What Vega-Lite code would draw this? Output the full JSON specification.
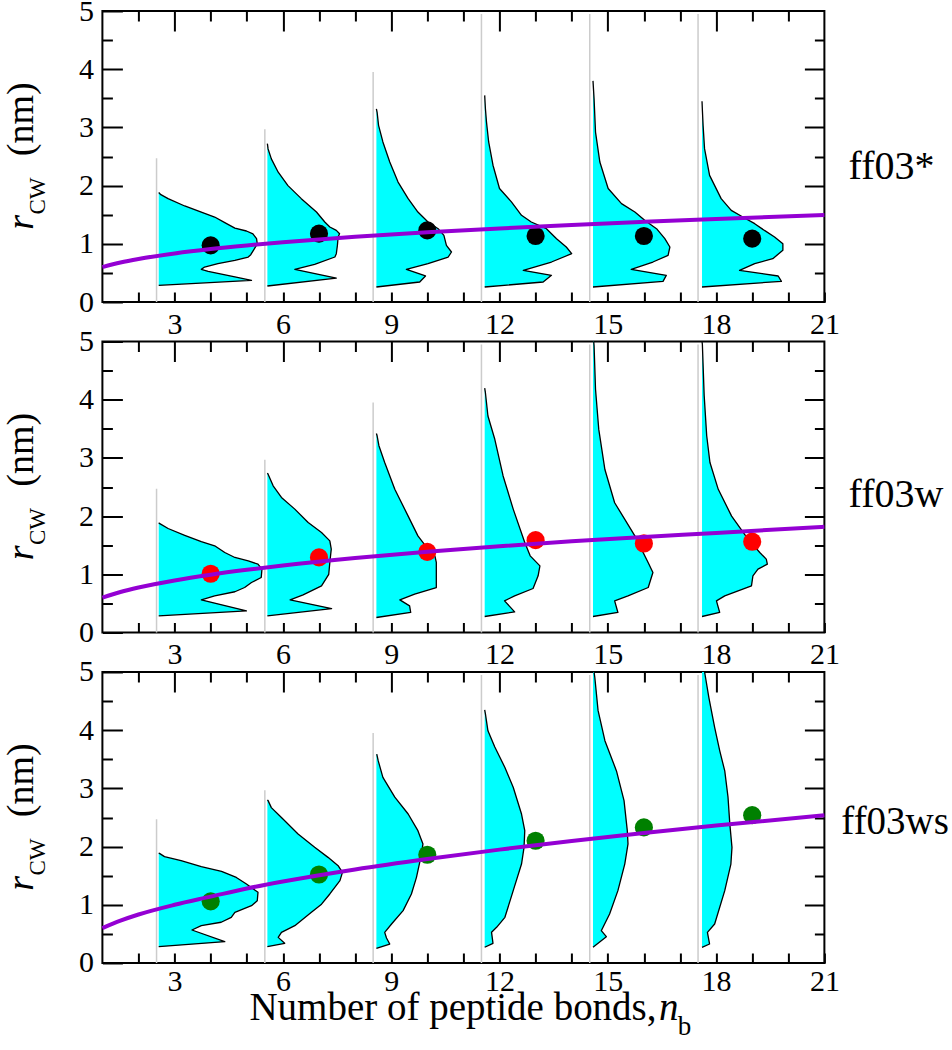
{
"$schema":"https://vega.github.io/schema/vega-lite/v6.json",
"autosize":{"type":"pad"},
"padding":{"left":2.4,"top":-5,"right":0,"bottom":0},
"background":"white",
"spacing":39.5,
"bounds":"flush",
"config":{"view":{"stroke":"black","strokeWidth":2},"font":"Liberation Serif","text":{"font":"Liberation Serif","color":"black"},
"axis":{"labelFont":"Liberation Serif","labelFontSize":30,"labelColor":"black","tickColor":"black","tickWidth":2,"domain":false,"grid":false,"labelFlush":false,"labelOverlap":false,"labelBound":false}},
"datasets":{
"bars":[
{"f":"ff03*","x0":2.5,"lo":0,"hi":2.47},{"f":"ff03*","x0":5.5,"lo":0,"hi":2.97},{"f":"ff03*","x0":8.5,"lo":0,"hi":3.95},{"f":"ff03*","x0":11.5,"lo":0,"hi":4.95},{"f":"ff03*","x0":14.5,"lo":0,"hi":4.95},{"f":"ff03*","x0":17.5,"lo":0,"hi":4.95},
{"f":"ff03w","x0":2.5,"lo":0,"hi":2.47},{"f":"ff03w","x0":5.5,"lo":0,"hi":2.97},{"f":"ff03w","x0":8.5,"lo":0,"hi":3.95},{"f":"ff03w","x0":11.5,"lo":0,"hi":4.95},{"f":"ff03w","x0":14.5,"lo":0,"hi":4.95},{"f":"ff03w","x0":17.5,"lo":0,"hi":4.95},
{"f":"ff03ws","x0":2.5,"lo":0,"hi":2.47},{"f":"ff03ws","x0":5.5,"lo":0,"hi":2.97},{"f":"ff03ws","x0":8.5,"lo":0,"hi":3.95},{"f":"ff03ws","x0":11.5,"lo":0,"hi":4.95},{"f":"ff03ws","x0":14.5,"lo":0,"hi":4.95},{"f":"ff03ws","x0":17.5,"lo":0,"hi":4.95}
],
"means":[
{"f":"ff03*","n":4,"r":0.974},{"f":"ff03*","n":7,"r":1.174},{"f":"ff03*","n":10,"r":1.23},{"f":"ff03*","n":13,"r":1.134},{"f":"ff03*","n":16,"r":1.134},{"f":"ff03*","n":19,"r":1.088},
{"f":"ff03w","n":4,"r":1.01},{"f":"ff03w","n":7,"r":1.29},{"f":"ff03w","n":10,"r":1.386},{"f":"ff03w","n":13,"r":1.586},{"f":"ff03w","n":16,"r":1.53},{"f":"ff03w","n":19,"r":1.56},
{"f":"ff03ws","n":4,"r":1.06},{"f":"ff03ws","n":7,"r":1.52},{"f":"ff03ws","n":10,"r":1.86},{"f":"ff03ws","n":13,"r":2.1},{"f":"ff03ws","n":16,"r":2.33},{"f":"ff03ws","n":19,"r":2.54}
],
"fits":[
{"f":"ff03*","n":1,"r":0.6},{"f":"ff03*","n":1.5,"r":0.678},{"f":"ff03*","n":2,"r":0.739},{"f":"ff03*","n":3,"r":0.834},{"f":"ff03*","n":4,"r":0.91},{"f":"ff03*","n":5,"r":0.972},{"f":"ff03*","n":6,"r":1.027},{"f":"ff03*","n":8,"r":1.12},{"f":"ff03*","n":10,"r":1.197},{"f":"ff03*","n":12,"r":1.264},{"f":"ff03*","n":14,"r":1.324},{"f":"ff03*","n":16,"r":1.378},{"f":"ff03*","n":18,"r":1.428},{"f":"ff03*","n":21,"r":1.496},
{"f":"ff03w","n":1,"r":0.6},{"f":"ff03w","n":1.5,"r":0.695},{"f":"ff03w","n":2,"r":0.772},{"f":"ff03w","n":3,"r":0.895},{"f":"ff03w","n":4,"r":0.994},{"f":"ff03w","n":5,"r":1.078},{"f":"ff03w","n":6,"r":1.152},{"f":"ff03w","n":8,"r":1.279},{"f":"ff03w","n":10,"r":1.387},{"f":"ff03w","n":12,"r":1.482},{"f":"ff03w","n":14,"r":1.568},{"f":"ff03w","n":16,"r":1.64},{"f":"ff03w","n":18,"r":1.71},{"f":"ff03w","n":21,"r":1.817},
{"f":"ff03ws","n":1,"r":0.6},{"f":"ff03ws","n":1.5,"r":0.727},{"f":"ff03ws","n":2,"r":0.833},{"f":"ff03ws","n":3,"r":1.0},{"f":"ff03ws","n":4,"r":1.14},{"f":"ff03ws","n":5,"r":1.28},{"f":"ff03ws","n":6,"r":1.4},{"f":"ff03ws","n":8,"r":1.608},{"f":"ff03ws","n":10,"r":1.787},{"f":"ff03ws","n":12,"r":1.948},{"f":"ff03ws","n":14,"r":2.096},{"f":"ff03ws","n":16,"r":2.233},{"f":"ff03ws","n":18,"r":2.361},{"f":"ff03ws","n":21,"r":2.54}
],
"shapes":[
{"f":"ff03*","g":1,"b":2.56,"x":2.56,"r":0.286},{"f":"ff03*","g":1,"b":2.56,"x":5.13,"r":0.372},{"f":"ff03*","g":1,"b":2.56,"x":4.67,"r":0.43},{"f":"ff03*","g":1,"b":2.56,"x":3.93,"r":0.527},{"f":"ff03*","g":1,"b":2.56,"x":3.74,"r":0.561},{"f":"ff03*","g":1,"b":2.56,"x":3.83,"r":0.6},{"f":"ff03*","g":1,"b":2.56,"x":4.2,"r":0.659},{"f":"ff03*","g":1,"b":2.56,"x":4.67,"r":0.716},{"f":"ff03*","g":1,"b":2.56,"x":5.04,"r":0.773},{"f":"ff03*","g":1,"b":2.56,"x":5.11,"r":0.813},{"f":"ff03*","g":1,"b":2.56,"x":5.2,"r":0.905},{"f":"ff03*","g":1,"b":2.56,"x":5.29,"r":1.0},{"f":"ff03*","g":1,"b":2.56,"x":5.27,"r":1.088},{"f":"ff03*","g":1,"b":2.56,"x":5.17,"r":1.17},{"f":"ff03*","g":1,"b":2.56,"x":4.99,"r":1.22},{"f":"ff03*","g":1,"b":2.56,"x":4.67,"r":1.27},{"f":"ff03*","g":1,"b":2.56,"x":4.39,"r":1.363},{"f":"ff03*","g":1,"b":2.56,"x":4.11,"r":1.46},{"f":"ff03*","g":1,"b":2.56,"x":3.74,"r":1.546},{"f":"ff03*","g":1,"b":2.56,"x":3.28,"r":1.65},{"f":"ff03*","g":1,"b":2.56,"x":2.82,"r":1.776},{"f":"ff03*","g":1,"b":2.56,"x":2.62,"r":1.844},{"f":"ff03*","g":1,"b":2.56,"x":2.56,"r":1.88},
{"f":"ff03*","g":2,"b":5.57,"x":5.57,"r":0.275},{"f":"ff03*","g":2,"b":5.57,"x":7.48,"r":0.412},{"f":"ff03*","g":2,"b":5.57,"x":6.33,"r":0.561},{"f":"ff03*","g":2,"b":5.57,"x":6.88,"r":0.647},{"f":"ff03*","g":2,"b":5.57,"x":7.44,"r":0.773},{"f":"ff03*","g":2,"b":5.57,"x":7.48,"r":0.83},{"f":"ff03*","g":2,"b":5.57,"x":7.51,"r":0.974},{"f":"ff03*","g":2,"b":5.57,"x":7.53,"r":1.117},{"f":"ff03*","g":2,"b":5.57,"x":7.57,"r":1.174},{"f":"ff03*","g":2,"b":5.57,"x":7.48,"r":1.231},{"f":"ff03*","g":2,"b":5.57,"x":7.3,"r":1.289},{"f":"ff03*","g":2,"b":5.57,"x":7.16,"r":1.375},{"f":"ff03*","g":2,"b":5.57,"x":6.93,"r":1.546},{"f":"ff03*","g":2,"b":5.57,"x":6.51,"r":1.776},{"f":"ff03*","g":2,"b":5.57,"x":6.14,"r":2.0},{"f":"ff03*","g":2,"b":5.57,"x":5.87,"r":2.23},{"f":"ff03*","g":2,"b":5.57,"x":5.68,"r":2.46},{"f":"ff03*","g":2,"b":5.57,"x":5.59,"r":2.63},{"f":"ff03*","g":2,"b":5.57,"x":5.57,"r":2.72},
{"f":"ff03*","g":3,"b":8.59,"x":8.59,"r":0.258},{"f":"ff03*","g":3,"b":8.59,"x":9.79,"r":0.344},{"f":"ff03*","g":3,"b":8.59,"x":9.95,"r":0.447},{"f":"ff03*","g":3,"b":8.59,"x":9.42,"r":0.561},{"f":"ff03*","g":3,"b":8.59,"x":10.02,"r":0.659},{"f":"ff03*","g":3,"b":8.59,"x":10.58,"r":0.773},{"f":"ff03*","g":3,"b":8.59,"x":10.67,"r":0.859},{"f":"ff03*","g":3,"b":8.59,"x":10.53,"r":0.974},{"f":"ff03*","g":3,"b":8.59,"x":10.46,"r":1.145},{"f":"ff03*","g":3,"b":8.59,"x":10.3,"r":1.26},{"f":"ff03*","g":3,"b":8.59,"x":10.02,"r":1.375},{"f":"ff03*","g":3,"b":8.59,"x":9.74,"r":1.546},{"f":"ff03*","g":3,"b":8.59,"x":9.47,"r":1.776},{"f":"ff03*","g":3,"b":8.59,"x":9.19,"r":2.06},{"f":"ff03*","g":3,"b":8.59,"x":8.96,"r":2.405},{"f":"ff03*","g":3,"b":8.59,"x":8.77,"r":2.75},{"f":"ff03*","g":3,"b":8.59,"x":8.65,"r":3.035},{"f":"ff03*","g":3,"b":8.59,"x":8.61,"r":3.26},{"f":"ff03*","g":3,"b":8.59,"x":8.59,"r":3.32},
{"f":"ff03*","g":4,"b":11.59,"x":11.59,"r":0.258},{"f":"ff03*","g":4,"b":11.59,"x":13.21,"r":0.344},{"f":"ff03*","g":4,"b":11.59,"x":13.44,"r":0.458},{"f":"ff03*","g":4,"b":11.59,"x":12.66,"r":0.544},{"f":"ff03*","g":4,"b":11.59,"x":13.44,"r":0.687},{"f":"ff03*","g":4,"b":11.59,"x":14.0,"r":0.83},{"f":"ff03*","g":4,"b":11.59,"x":13.85,"r":0.945},{"f":"ff03*","g":4,"b":11.59,"x":13.58,"r":1.088},{"f":"ff03*","g":4,"b":11.59,"x":13.3,"r":1.26},{"f":"ff03*","g":4,"b":11.59,"x":12.88,"r":1.375},{"f":"ff03*","g":4,"b":11.59,"x":12.61,"r":1.49},{"f":"ff03*","g":4,"b":11.59,"x":12.33,"r":1.72},{"f":"ff03*","g":4,"b":11.59,"x":12.0,"r":1.95},{"f":"ff03*","g":4,"b":11.59,"x":11.82,"r":2.35},{"f":"ff03*","g":4,"b":11.59,"x":11.7,"r":2.75},{"f":"ff03*","g":4,"b":11.59,"x":11.64,"r":3.09},{"f":"ff03*","g":4,"b":11.59,"x":11.61,"r":3.32},{"f":"ff03*","g":4,"b":11.59,"x":11.59,"r":3.55},
{"f":"ff03*","g":5,"b":14.59,"x":14.59,"r":0.258},{"f":"ff03*","g":5,"b":14.59,"x":16.53,"r":0.355},{"f":"ff03*","g":5,"b":14.59,"x":16.62,"r":0.458},{"f":"ff03*","g":5,"b":14.59,"x":15.65,"r":0.561},{"f":"ff03*","g":5,"b":14.59,"x":16.25,"r":0.687},{"f":"ff03*","g":5,"b":14.59,"x":16.67,"r":0.8},{"f":"ff03*","g":5,"b":14.59,"x":16.72,"r":0.945},{"f":"ff03*","g":5,"b":14.59,"x":16.58,"r":1.088},{"f":"ff03*","g":5,"b":14.59,"x":16.35,"r":1.26},{"f":"ff03*","g":5,"b":14.59,"x":16.03,"r":1.4},{"f":"ff03*","g":5,"b":14.59,"x":15.75,"r":1.546},{"f":"ff03*","g":5,"b":14.59,"x":15.38,"r":1.69},{"f":"ff03*","g":5,"b":14.59,"x":15.01,"r":1.95},{"f":"ff03*","g":5,"b":14.59,"x":14.78,"r":2.405},{"f":"ff03*","g":5,"b":14.59,"x":14.66,"r":2.92},{"f":"ff03*","g":5,"b":14.59,"x":14.62,"r":3.49},{"f":"ff03*","g":5,"b":14.59,"x":14.59,"r":3.8},
{"f":"ff03*","g":6,"b":17.61,"x":17.61,"r":0.258},{"f":"ff03*","g":6,"b":17.61,"x":19.81,"r":0.355},{"f":"ff03*","g":6,"b":17.61,"x":19.72,"r":0.447},{"f":"ff03*","g":6,"b":17.61,"x":18.65,"r":0.544},{"f":"ff03*","g":6,"b":17.61,"x":19.07,"r":0.659},{"f":"ff03*","g":6,"b":17.61,"x":19.57,"r":0.745},{"f":"ff03*","g":6,"b":17.61,"x":19.85,"r":0.888},{"f":"ff03*","g":6,"b":17.61,"x":19.85,"r":1.0},{"f":"ff03*","g":6,"b":17.61,"x":19.62,"r":1.117},{"f":"ff03*","g":6,"b":17.61,"x":19.34,"r":1.23},{"f":"ff03*","g":6,"b":17.61,"x":19.07,"r":1.346},{"f":"ff03*","g":6,"b":17.61,"x":18.74,"r":1.46},{"f":"ff03*","g":6,"b":17.61,"x":18.42,"r":1.575},{"f":"ff03*","g":6,"b":17.61,"x":18.14,"r":1.776},{"f":"ff03*","g":6,"b":17.61,"x":17.82,"r":2.176},{"f":"ff03*","g":6,"b":17.61,"x":17.68,"r":2.635},{"f":"ff03*","g":6,"b":17.61,"x":17.64,"r":3.035},{"f":"ff03*","g":6,"b":17.61,"x":17.62,"r":3.3},{"f":"ff03*","g":6,"b":17.61,"x":17.61,"r":3.45},
{"f":"ff03w","g":1,"b":2.56,"x":2.56,"r":0.286},{"f":"ff03w","g":1,"b":2.56,"x":4.99,"r":0.372},{"f":"ff03w","g":1,"b":2.56,"x":3.74,"r":0.561},{"f":"ff03w","g":1,"b":2.56,"x":4.11,"r":0.63},{"f":"ff03w","g":1,"b":2.56,"x":4.67,"r":0.7},{"f":"ff03w","g":1,"b":2.56,"x":4.94,"r":0.773},{"f":"ff03w","g":1,"b":2.56,"x":5.13,"r":0.859},{"f":"ff03w","g":1,"b":2.56,"x":5.4,"r":0.945},{"f":"ff03w","g":1,"b":2.56,"x":5.42,"r":1.088},{"f":"ff03w","g":1,"b":2.56,"x":5.31,"r":1.174},{"f":"ff03w","g":1,"b":2.56,"x":5.04,"r":1.23},{"f":"ff03w","g":1,"b":2.56,"x":4.67,"r":1.289},{"f":"ff03w","g":1,"b":2.56,"x":4.39,"r":1.375},{"f":"ff03w","g":1,"b":2.56,"x":4.11,"r":1.49},{"f":"ff03w","g":1,"b":2.56,"x":3.74,"r":1.56},{"f":"ff03w","g":1,"b":2.56,"x":3.28,"r":1.67},{"f":"ff03w","g":1,"b":2.56,"x":2.82,"r":1.787},{"f":"ff03w","g":1,"b":2.56,"x":2.59,"r":1.87},{"f":"ff03w","g":1,"b":2.56,"x":2.56,"r":1.885},
{"f":"ff03w","g":2,"b":5.57,"x":5.57,"r":0.286},{"f":"ff03w","g":2,"b":5.57,"x":7.35,"r":0.412},{"f":"ff03w","g":2,"b":5.57,"x":6.2,"r":0.561},{"f":"ff03w","g":2,"b":5.57,"x":6.56,"r":0.647},{"f":"ff03w","g":2,"b":5.57,"x":7.07,"r":0.8},{"f":"ff03w","g":2,"b":5.57,"x":7.27,"r":1.0},{"f":"ff03w","g":2,"b":5.57,"x":7.3,"r":1.203},{"f":"ff03w","g":2,"b":5.57,"x":7.34,"r":1.432},{"f":"ff03w","g":2,"b":5.57,"x":7.3,"r":1.575},{"f":"ff03w","g":2,"b":5.57,"x":7.07,"r":1.718},{"f":"ff03w","g":2,"b":5.57,"x":6.7,"r":1.89},{"f":"ff03w","g":2,"b":5.57,"x":6.33,"r":2.12},{"f":"ff03w","g":2,"b":5.57,"x":5.96,"r":2.32},{"f":"ff03w","g":2,"b":5.57,"x":5.73,"r":2.52},{"f":"ff03w","g":2,"b":5.57,"x":5.59,"r":2.72},{"f":"ff03w","g":2,"b":5.57,"x":5.57,"r":2.74},
{"f":"ff03w","g":3,"b":8.59,"x":8.59,"r":0.258},{"f":"ff03w","g":3,"b":8.59,"x":9.54,"r":0.344},{"f":"ff03w","g":3,"b":8.59,"x":9.51,"r":0.458},{"f":"ff03w","g":3,"b":8.59,"x":9.24,"r":0.561},{"f":"ff03w","g":3,"b":8.59,"x":9.65,"r":0.659},{"f":"ff03w","g":3,"b":8.59,"x":10.25,"r":0.773},{"f":"ff03w","g":3,"b":8.59,"x":10.25,"r":0.974},{"f":"ff03w","g":3,"b":8.59,"x":10.25,"r":1.203},{"f":"ff03w","g":3,"b":8.59,"x":10.21,"r":1.317},{"f":"ff03w","g":3,"b":8.59,"x":10.02,"r":1.432},{"f":"ff03w","g":3,"b":8.59,"x":9.74,"r":1.66},{"f":"ff03w","g":3,"b":8.59,"x":9.47,"r":2.0},{"f":"ff03w","g":3,"b":8.59,"x":9.1,"r":2.46},{"f":"ff03w","g":3,"b":8.59,"x":8.82,"r":2.92},{"f":"ff03w","g":3,"b":8.59,"x":8.66,"r":3.21},{"f":"ff03w","g":3,"b":8.59,"x":8.61,"r":3.38},{"f":"ff03w","g":3,"b":8.59,"x":8.59,"r":3.42},
{"f":"ff03w","g":4,"b":11.59,"x":11.59,"r":0.275},{"f":"ff03w","g":4,"b":11.59,"x":12.42,"r":0.355},{"f":"ff03w","g":4,"b":11.59,"x":12.14,"r":0.544},{"f":"ff03w","g":4,"b":11.59,"x":12.42,"r":0.63},{"f":"ff03w","g":4,"b":11.59,"x":12.93,"r":0.756},{"f":"ff03w","g":4,"b":11.59,"x":13.07,"r":0.974},{"f":"ff03w","g":4,"b":11.59,"x":13.12,"r":1.145},{"f":"ff03w","g":4,"b":11.59,"x":12.85,"r":1.317},{"f":"ff03w","g":4,"b":11.59,"x":12.7,"r":1.546},{"f":"ff03w","g":4,"b":11.59,"x":12.38,"r":2.12},{"f":"ff03w","g":4,"b":11.59,"x":12.1,"r":2.69},{"f":"ff03w","g":4,"b":11.59,"x":11.87,"r":3.32},{"f":"ff03w","g":4,"b":11.59,"x":11.68,"r":3.72},{"f":"ff03w","g":4,"b":11.59,"x":11.61,"r":4.12},{"f":"ff03w","g":4,"b":11.59,"x":11.59,"r":4.2},
{"f":"ff03w","g":5,"b":14.59,"x":14.59,"r":0.275},{"f":"ff03w","g":5,"b":14.59,"x":15.28,"r":0.344},{"f":"ff03w","g":5,"b":14.59,"x":15.19,"r":0.544},{"f":"ff03w","g":5,"b":14.59,"x":15.56,"r":0.63},{"f":"ff03w","g":5,"b":14.59,"x":16.12,"r":0.773},{"f":"ff03w","g":5,"b":14.59,"x":16.25,"r":1.03},{"f":"ff03w","g":5,"b":14.59,"x":16.12,"r":1.2},{"f":"ff03w","g":5,"b":14.59,"x":15.75,"r":1.66},{"f":"ff03w","g":5,"b":14.59,"x":15.19,"r":2.23},{"f":"ff03w","g":5,"b":14.59,"x":14.92,"r":2.8},{"f":"ff03w","g":5,"b":14.59,"x":14.75,"r":3.49},{"f":"ff03w","g":5,"b":14.59,"x":14.66,"r":4.18},{"f":"ff03w","g":5,"b":14.59,"x":14.62,"r":4.93},{"f":"ff03w","g":5,"b":14.59,"x":14.61,"r":5.0},
{"f":"ff03w","g":6,"b":17.61,"x":17.61,"r":0.275},{"f":"ff03w","g":6,"b":17.61,"x":18.1,"r":0.344},{"f":"ff03w","g":6,"b":17.61,"x":18.01,"r":0.544},{"f":"ff03w","g":6,"b":17.61,"x":18.24,"r":0.63},{"f":"ff03w","g":6,"b":17.61,"x":18.98,"r":0.8},{"f":"ff03w","g":6,"b":17.61,"x":19.02,"r":0.974},{"f":"ff03w","g":6,"b":17.61,"x":19.16,"r":1.088},{"f":"ff03w","g":6,"b":17.61,"x":19.42,"r":1.174},{"f":"ff03w","g":6,"b":17.61,"x":19.39,"r":1.26},{"f":"ff03w","g":6,"b":17.61,"x":19.21,"r":1.375},{"f":"ff03w","g":6,"b":17.61,"x":18.89,"r":1.6},{"f":"ff03w","g":6,"b":17.61,"x":18.43,"r":2.0},{"f":"ff03w","g":6,"b":17.61,"x":18.06,"r":2.46},{"f":"ff03w","g":6,"b":17.61,"x":17.83,"r":2.92},{"f":"ff03w","g":6,"b":17.61,"x":17.74,"r":3.38},{"f":"ff03w","g":6,"b":17.61,"x":17.67,"r":4.07},{"f":"ff03w","g":6,"b":17.61,"x":17.62,"r":4.95},{"f":"ff03w","g":6,"b":17.61,"x":17.61,"r":5.0},
{"f":"ff03ws","g":1,"b":2.56,"x":2.56,"r":0.28},{"f":"ff03ws","g":1,"b":2.56,"x":4.39,"r":0.367},{"f":"ff03ws","g":1,"b":2.56,"x":3.48,"r":0.567},{"f":"ff03ws","g":1,"b":2.56,"x":3.74,"r":0.641},{"f":"ff03ws","g":1,"b":2.56,"x":4.29,"r":0.7},{"f":"ff03ws","g":1,"b":2.56,"x":4.57,"r":0.785},{"f":"ff03ws","g":1,"b":2.56,"x":4.67,"r":0.87},{"f":"ff03ws","g":1,"b":2.56,"x":5.13,"r":0.985},{"f":"ff03ws","g":1,"b":2.56,"x":5.29,"r":1.07},{"f":"ff03ws","g":1,"b":2.56,"x":5.31,"r":1.214},{"f":"ff03ws","g":1,"b":2.56,"x":5.22,"r":1.254},{"f":"ff03ws","g":1,"b":2.56,"x":4.99,"r":1.357},{"f":"ff03ws","g":1,"b":2.56,"x":4.71,"r":1.47},{"f":"ff03ws","g":1,"b":2.56,"x":4.3,"r":1.575},{"f":"ff03ws","g":1,"b":2.56,"x":3.74,"r":1.655},{"f":"ff03ws","g":1,"b":2.56,"x":3.18,"r":1.758},{"f":"ff03ws","g":1,"b":2.56,"x":2.72,"r":1.827},{"f":"ff03ws","g":1,"b":2.56,"x":2.58,"r":1.884},{"f":"ff03ws","g":1,"b":2.56,"x":2.56,"r":1.89},
{"f":"ff03ws","g":2,"b":5.57,"x":5.57,"r":0.28},{"f":"ff03ws","g":2,"b":5.57,"x":6.05,"r":0.338},{"f":"ff03ws","g":2,"b":5.57,"x":5.87,"r":0.44},{"f":"ff03ws","g":2,"b":5.57,"x":5.96,"r":0.527},{"f":"ff03ws","g":2,"b":5.57,"x":6.33,"r":0.641},{"f":"ff03ws","g":2,"b":5.57,"x":6.79,"r":0.87},{"f":"ff03ws","g":2,"b":5.57,"x":7.07,"r":1.01},{"f":"ff03ws","g":2,"b":5.57,"x":7.3,"r":1.186},{"f":"ff03ws","g":2,"b":5.57,"x":7.58,"r":1.415},{"f":"ff03ws","g":2,"b":5.57,"x":7.65,"r":1.558},{"f":"ff03ws","g":2,"b":5.57,"x":7.53,"r":1.672},{"f":"ff03ws","g":2,"b":5.57,"x":7.25,"r":1.815},{"f":"ff03ws","g":2,"b":5.57,"x":6.88,"r":1.987},{"f":"ff03ws","g":2,"b":5.57,"x":6.42,"r":2.216},{"f":"ff03ws","g":2,"b":5.57,"x":5.96,"r":2.5},{"f":"ff03ws","g":2,"b":5.57,"x":5.68,"r":2.67},{"f":"ff03ws","g":2,"b":5.57,"x":5.59,"r":2.79},{"f":"ff03ws","g":2,"b":5.57,"x":5.57,"r":2.8},
{"f":"ff03ws","g":3,"b":8.59,"x":8.59,"r":0.252},{"f":"ff03ws","g":3,"b":8.59,"x":8.96,"r":0.326},{"f":"ff03ws","g":3,"b":8.59,"x":8.87,"r":0.43},{"f":"ff03ws","g":3,"b":8.59,"x":8.82,"r":0.527},{"f":"ff03ws","g":3,"b":8.59,"x":9.01,"r":0.67},{"f":"ff03ws","g":3,"b":8.59,"x":9.33,"r":0.9},{"f":"ff03ws","g":3,"b":8.59,"x":9.56,"r":1.186},{"f":"ff03ws","g":3,"b":8.59,"x":9.7,"r":1.472},{"f":"ff03ws","g":3,"b":8.59,"x":9.82,"r":1.815},{"f":"ff03ws","g":3,"b":8.59,"x":9.88,"r":2.045},{"f":"ff03ws","g":3,"b":8.59,"x":9.74,"r":2.274},{"f":"ff03ws","g":3,"b":8.59,"x":9.47,"r":2.56},{"f":"ff03ws","g":3,"b":8.59,"x":9.1,"r":2.85},{"f":"ff03ws","g":3,"b":8.59,"x":8.77,"r":3.19},{"f":"ff03ws","g":3,"b":8.59,"x":8.64,"r":3.476},{"f":"ff03ws","g":3,"b":8.59,"x":8.6,"r":3.59},
{"f":"ff03ws","g":4,"b":11.59,"x":11.59,"r":0.27},{"f":"ff03ws","g":4,"b":11.59,"x":11.82,"r":0.338},{"f":"ff03ws","g":4,"b":11.59,"x":11.78,"r":0.527},{"f":"ff03ws","g":4,"b":11.59,"x":11.92,"r":0.613},{"f":"ff03ws","g":4,"b":11.59,"x":12.15,"r":0.785},{"f":"ff03ws","g":4,"b":11.59,"x":12.38,"r":1.243},{"f":"ff03ws","g":4,"b":11.59,"x":12.61,"r":1.7},{"f":"ff03ws","g":4,"b":11.59,"x":12.68,"r":1.987},{"f":"ff03ws","g":4,"b":11.59,"x":12.7,"r":2.274},{"f":"ff03ws","g":4,"b":11.59,"x":12.61,"r":2.56},{"f":"ff03ws","g":4,"b":11.59,"x":12.38,"r":3.02},{"f":"ff03ws","g":4,"b":11.59,"x":12.15,"r":3.36},{"f":"ff03ws","g":4,"b":11.59,"x":11.87,"r":3.71},{"f":"ff03ws","g":4,"b":11.59,"x":11.68,"r":3.99},{"f":"ff03ws","g":4,"b":11.59,"x":11.61,"r":4.28},{"f":"ff03ws","g":4,"b":11.59,"x":11.59,"r":4.35},
{"f":"ff03ws","g":5,"b":14.59,"x":14.59,"r":0.27},{"f":"ff03ws","g":5,"b":14.59,"x":14.96,"r":0.452},{"f":"ff03ws","g":5,"b":14.59,"x":14.82,"r":0.555},{"f":"ff03ws","g":5,"b":14.59,"x":15.05,"r":0.842},{"f":"ff03ws","g":5,"b":14.59,"x":15.28,"r":1.243},{"f":"ff03ws","g":5,"b":14.59,"x":15.47,"r":1.7},{"f":"ff03ws","g":5,"b":14.59,"x":15.56,"r":2.045},{"f":"ff03ws","g":5,"b":14.59,"x":15.54,"r":2.274},{"f":"ff03ws","g":5,"b":14.59,"x":15.45,"r":2.79},{"f":"ff03ws","g":5,"b":14.59,"x":15.24,"r":3.3},{"f":"ff03ws","g":5,"b":14.59,"x":14.92,"r":3.82},{"f":"ff03ws","g":5,"b":14.59,"x":14.73,"r":4.34},{"f":"ff03ws","g":5,"b":14.59,"x":14.64,"r":4.91},{"f":"ff03ws","g":5,"b":14.59,"x":14.62,"r":5.0},
{"f":"ff03ws","g":6,"b":17.61,"x":17.61,"r":0.27},{"f":"ff03ws","g":6,"b":17.61,"x":17.82,"r":0.326},{"f":"ff03ws","g":6,"b":17.61,"x":17.76,"r":0.527},{"f":"ff03ws","g":6,"b":17.61,"x":17.96,"r":0.67},{"f":"ff03ws","g":6,"b":17.61,"x":18.24,"r":1.243},{"f":"ff03ws","g":6,"b":17.61,"x":18.41,"r":1.7},{"f":"ff03ws","g":6,"b":17.61,"x":18.44,"r":1.987},{"f":"ff03ws","g":6,"b":17.61,"x":18.38,"r":2.39},{"f":"ff03ws","g":6,"b":17.61,"x":18.33,"r":2.85},{"f":"ff03ws","g":6,"b":17.61,"x":18.24,"r":3.3},{"f":"ff03ws","g":6,"b":17.61,"x":18.1,"r":3.65},{"f":"ff03ws","g":6,"b":17.61,"x":17.96,"r":4.05},{"f":"ff03ws","g":6,"b":17.61,"x":17.8,"r":4.56},{"f":"ff03ws","g":6,"b":17.61,"x":17.69,"r":4.97},{"f":"ff03ws","g":6,"b":17.61,"x":17.68,"r":5.0}
]
},
"vconcat":[
{"width":722,"height":291,"resolve":{"axis":{"x":"independent","y":"independent"}},
"layer":[
{"data":{"name":"bars"},"transform":[{"filter":"datum.f==='ff03*'"}],"mark":{"type":"rule","color":"#cccccc","strokeWidth":1.5},
"encoding":{"x":{"field":"x0","type":"quantitative","scale":{"domain":[1,21],"nice":false,"zero":false},"axis":{"orient":"bottom","title":null,"values":[2,3,4,5,6,7,8,9,10,11,12,13,14,15,16,17,18,19,20,21],"labelExpr":"datum.value % 3 === 0 ? datum.label : ''","tickSize":-10,"labelPadding":17}},
"y":{"field":"lo","type":"quantitative","scale":{"domain":[0,5],"nice":false,"zero":false},"axis":{"orient":"left","title":null,"values":[0,1,2,3,4,5],"tickSize":-20,"labelPadding":29}},"y2":{"field":"hi"}}},
{"data":{"name":"shapes"},"transform":[{"filter":"datum.f==='ff03*'"}],"mark":{"type":"area","orient":"horizontal","color":"#00ffff","opacity":1},
"encoding":{"y":{"field":"r","type":"quantitative","scale":{"domain":[0,5],"nice":false,"zero":false},"axis":{"orient":"left","title":null,"values":[0.5,1.5,2.5,3.5,4.5],"tickSize":-10,"labels":false}},
"x":{"field":"x","type":"quantitative","stack":null,"scale":{"domain":[1,21],"nice":false,"zero":false},"axis":{"orient":"top","title":null,"values":[3,6,9,12,15,18],"tickSize":-20,"labels":false}},"x2":{"field":"b"},"detail":{"field":"g"}}},
{"data":{"name":"shapes"},"transform":[{"filter":"datum.f==='ff03*'"}],"mark":{"type":"line","color":"black","strokeWidth":1.3,"strokeJoin":"round"},
"encoding":{"x":{"field":"x","type":"quantitative","scale":{"domain":[1,21],"nice":false,"zero":false},"axis":{"orient":"top","title":null,"values":[2,4,5,7,8,10,11,13,14,16,17,19,20],"tickSize":-10,"labels":false}},
"y":{"field":"r","type":"quantitative","scale":{"domain":[0,5],"nice":false,"zero":false},"axis":{"orient":"right","title":null,"values":[1,2,3,4],"tickSize":-20,"labels":false}},"order":{"field":"r","type":"quantitative"},"detail":{"field":"g"}}},
{"data":{"name":"means"},"transform":[{"filter":"datum.f==='ff03*'"}],"mark":{"type":"point","shape":"circle","filled":true,"size":330,"color":"black","opacity":1},
"encoding":{"x":{"field":"n","type":"quantitative","scale":{"domain":[1,21],"nice":false,"zero":false},"axis":null},
"y":{"field":"r","type":"quantitative","scale":{"domain":[0,5],"nice":false,"zero":false},"axis":{"orient":"right","title":null,"values":[0.5,1.5,2.5,3.5,4.5],"tickSize":-10,"labels":false}}}},
{"data":{"name":"fits"},"transform":[{"filter":"datum.f==='ff03*'"}],"mark":{"type":"line","color":"#9400d3","strokeWidth":4,"interpolate":"monotone"},
"encoding":{"x":{"field":"n","type":"quantitative","scale":{"domain":[1,21],"nice":false,"zero":false},"axis":null},"y":{"field":"r","type":"quantitative","scale":{"domain":[0,5],"nice":false,"zero":false},"axis":null}}},
{"data":{"values":[{"t":"ff03*","x":21.67,"y":2.12}]},"mark":{"type":"text","align":"left","baseline":"alphabetic","fontSize":40},
"encoding":{"x":{"field":"x","type":"quantitative","scale":{"domain":[1,21],"nice":false,"zero":false},"axis":null},"y":{"field":"y","type":"quantitative","scale":{"domain":[0,5],"nice":false,"zero":false},"axis":null},"text":{"field":"t"}}},
{"data":{"values":[{"t":"r","x":-0.911,"y":1.37}]},"mark":{"type":"text","align":"center","baseline":"alphabetic","fontSize":38,"fontStyle":"italic","angle":270},
"encoding":{"x":{"field":"x","type":"quantitative","scale":{"domain":[1,21],"nice":false,"zero":false},"axis":null},"y":{"field":"y","type":"quantitative","scale":{"domain":[0,5],"nice":false,"zero":false},"axis":null},"text":{"field":"t"}}},
{"data":{"values":[{"t":"CW","x":-0.59,"y":1.82},{"t":"(nm)","x":-0.911,"y":3.14}]},"mark":{"type":"text","align":"center","baseline":"alphabetic","angle":270},
"encoding":{"x":{"field":"x","type":"quantitative","scale":{"domain":[1,21],"nice":false,"zero":false},"axis":null},"y":{"field":"y","type":"quantitative","scale":{"domain":[0,5],"nice":false,"zero":false},"axis":null},"text":{"field":"t"},"size":{"field":"t","type":"nominal","scale":{"domain":["CW","(nm)"],"range":[23,38]},"legend":null}}}
]},
{"width":722,"height":291,"resolve":{"axis":{"x":"independent","y":"independent"}},
"layer":[
{"data":{"name":"bars"},"transform":[{"filter":"datum.f==='ff03w'"}],"mark":{"type":"rule","color":"#cccccc","strokeWidth":1.5},
"encoding":{"x":{"field":"x0","type":"quantitative","scale":{"domain":[1,21],"nice":false,"zero":false},"axis":{"orient":"bottom","title":null,"values":[2,3,4,5,6,7,8,9,10,11,12,13,14,15,16,17,18,19,20,21],"labelExpr":"datum.value % 3 === 0 ? datum.label : ''","tickSize":-10,"labelPadding":17}},
"y":{"field":"lo","type":"quantitative","scale":{"domain":[0,5],"nice":false,"zero":false},"axis":{"orient":"left","title":null,"values":[0,1,2,3,4,5],"tickSize":-20,"labelPadding":29}},"y2":{"field":"hi"}}},
{"data":{"name":"shapes"},"transform":[{"filter":"datum.f==='ff03w'"}],"mark":{"type":"area","orient":"horizontal","color":"#00ffff","opacity":1},
"encoding":{"y":{"field":"r","type":"quantitative","scale":{"domain":[0,5],"nice":false,"zero":false},"axis":{"orient":"left","title":null,"values":[0.5,1.5,2.5,3.5,4.5],"tickSize":-10,"labels":false}},
"x":{"field":"x","type":"quantitative","stack":null,"scale":{"domain":[1,21],"nice":false,"zero":false},"axis":{"orient":"top","title":null,"values":[3,6,9,12,15,18],"tickSize":-20,"labels":false}},"x2":{"field":"b"},"detail":{"field":"g"}}},
{"data":{"name":"shapes"},"transform":[{"filter":"datum.f==='ff03w'"}],"mark":{"type":"line","color":"black","strokeWidth":1.3,"strokeJoin":"round"},
"encoding":{"x":{"field":"x","type":"quantitative","scale":{"domain":[1,21],"nice":false,"zero":false},"axis":{"orient":"top","title":null,"values":[2,4,5,7,8,10,11,13,14,16,17,19,20],"tickSize":-10,"labels":false}},
"y":{"field":"r","type":"quantitative","scale":{"domain":[0,5],"nice":false,"zero":false},"axis":{"orient":"right","title":null,"values":[1,2,3,4],"tickSize":-20,"labels":false}},"order":{"field":"r","type":"quantitative"},"detail":{"field":"g"}}},
{"data":{"name":"means"},"transform":[{"filter":"datum.f==='ff03w'"}],"mark":{"type":"point","shape":"circle","filled":true,"size":330,"color":"#ff0000","opacity":1},
"encoding":{"x":{"field":"n","type":"quantitative","scale":{"domain":[1,21],"nice":false,"zero":false},"axis":null},
"y":{"field":"r","type":"quantitative","scale":{"domain":[0,5],"nice":false,"zero":false},"axis":{"orient":"right","title":null,"values":[0.5,1.5,2.5,3.5,4.5],"tickSize":-10,"labels":false}}}},
{"data":{"name":"fits"},"transform":[{"filter":"datum.f==='ff03w'"}],"mark":{"type":"line","color":"#9400d3","strokeWidth":4,"interpolate":"monotone"},
"encoding":{"x":{"field":"n","type":"quantitative","scale":{"domain":[1,21],"nice":false,"zero":false},"axis":null},"y":{"field":"r","type":"quantitative","scale":{"domain":[0,5],"nice":false,"zero":false},"axis":null}}},
{"data":{"values":[{"t":"ff03w","x":21.67,"y":2.15}]},"mark":{"type":"text","align":"left","baseline":"alphabetic","fontSize":40},
"encoding":{"x":{"field":"x","type":"quantitative","scale":{"domain":[1,21],"nice":false,"zero":false},"axis":null},"y":{"field":"y","type":"quantitative","scale":{"domain":[0,5],"nice":false,"zero":false},"axis":null},"text":{"field":"t"}}},
{"data":{"values":[{"t":"r","x":-0.911,"y":1.37}]},"mark":{"type":"text","align":"center","baseline":"alphabetic","fontSize":38,"fontStyle":"italic","angle":270},
"encoding":{"x":{"field":"x","type":"quantitative","scale":{"domain":[1,21],"nice":false,"zero":false},"axis":null},"y":{"field":"y","type":"quantitative","scale":{"domain":[0,5],"nice":false,"zero":false},"axis":null},"text":{"field":"t"}}},
{"data":{"values":[{"t":"CW","x":-0.59,"y":1.82},{"t":"(nm)","x":-0.911,"y":3.14}]},"mark":{"type":"text","align":"center","baseline":"alphabetic","angle":270},
"encoding":{"x":{"field":"x","type":"quantitative","scale":{"domain":[1,21],"nice":false,"zero":false},"axis":null},"y":{"field":"y","type":"quantitative","scale":{"domain":[0,5],"nice":false,"zero":false},"axis":null},"text":{"field":"t"},"size":{"field":"t","type":"nominal","scale":{"domain":["CW","(nm)"],"range":[23,38]},"legend":null}}}
]},
{"width":722,"height":291,"resolve":{"axis":{"x":"independent","y":"independent"}},
"layer":[
{"data":{"name":"bars"},"transform":[{"filter":"datum.f==='ff03ws'"}],"mark":{"type":"rule","color":"#cccccc","strokeWidth":1.5},
"encoding":{"x":{"field":"x0","type":"quantitative","scale":{"domain":[1,21],"nice":false,"zero":false},"axis":{"orient":"bottom","title":null,"values":[2,3,4,5,6,7,8,9,10,11,12,13,14,15,16,17,18,19,20,21],"labelExpr":"datum.value % 3 === 0 ? datum.label : ''","tickSize":-10,"labelPadding":14}},
"y":{"field":"lo","type":"quantitative","scale":{"domain":[0,5],"nice":false,"zero":false},"axis":{"orient":"left","title":null,"values":[0,1,2,3,4,5],"tickSize":-20,"labelPadding":29}},"y2":{"field":"hi"}}},
{"data":{"name":"shapes"},"transform":[{"filter":"datum.f==='ff03ws'"}],"mark":{"type":"area","orient":"horizontal","color":"#00ffff","opacity":1},
"encoding":{"y":{"field":"r","type":"quantitative","scale":{"domain":[0,5],"nice":false,"zero":false},"axis":{"orient":"left","title":null,"values":[0.5,1.5,2.5,3.5,4.5],"tickSize":-10,"labels":false}},
"x":{"field":"x","type":"quantitative","stack":null,"scale":{"domain":[1,21],"nice":false,"zero":false},"axis":{"orient":"top","title":null,"values":[3,6,9,12,15,18],"tickSize":-20,"labels":false}},"x2":{"field":"b"},"detail":{"field":"g"}}},
{"data":{"name":"shapes"},"transform":[{"filter":"datum.f==='ff03ws'"}],"mark":{"type":"line","color":"black","strokeWidth":1.3,"strokeJoin":"round"},
"encoding":{"x":{"field":"x","type":"quantitative","scale":{"domain":[1,21],"nice":false,"zero":false},"axis":{"orient":"top","title":null,"values":[2,4,5,7,8,10,11,13,14,16,17,19,20],"tickSize":-10,"labels":false}},
"y":{"field":"r","type":"quantitative","scale":{"domain":[0,5],"nice":false,"zero":false},"axis":{"orient":"right","title":null,"values":[1,2,3,4],"tickSize":-20,"labels":false}},"order":{"field":"r","type":"quantitative"},"detail":{"field":"g"}}},
{"data":{"name":"means"},"transform":[{"filter":"datum.f==='ff03ws'"}],"mark":{"type":"point","shape":"circle","filled":true,"size":330,"color":"#008000","opacity":1},
"encoding":{"x":{"field":"n","type":"quantitative","scale":{"domain":[1,21],"nice":false,"zero":false},"axis":null},
"y":{"field":"r","type":"quantitative","scale":{"domain":[0,5],"nice":false,"zero":false},"axis":{"orient":"right","title":null,"values":[0.5,1.5,2.5,3.5,4.5],"tickSize":-10,"labels":false}}}},
{"data":{"name":"fits"},"transform":[{"filter":"datum.f==='ff03ws'"}],"mark":{"type":"line","color":"#9400d3","strokeWidth":4,"interpolate":"monotone"},
"encoding":{"x":{"field":"n","type":"quantitative","scale":{"domain":[1,21],"nice":false,"zero":false},"axis":null},"y":{"field":"r","type":"quantitative","scale":{"domain":[0,5],"nice":false,"zero":false},"axis":null}}},
{"data":{"values":[{"t":"ff03ws","x":21.47,"y":2.22}]},"mark":{"type":"text","align":"left","baseline":"alphabetic","fontSize":39},
"encoding":{"x":{"field":"x","type":"quantitative","scale":{"domain":[1,21],"nice":false,"zero":false},"axis":null},"y":{"field":"y","type":"quantitative","scale":{"domain":[0,5],"nice":false,"zero":false},"axis":null},"text":{"field":"t"}}},
{"data":{"values":[{"t":"r","x":-0.911,"y":1.37}]},"mark":{"type":"text","align":"center","baseline":"alphabetic","fontSize":38,"fontStyle":"italic","angle":270},
"encoding":{"x":{"field":"x","type":"quantitative","scale":{"domain":[1,21],"nice":false,"zero":false},"axis":null},"y":{"field":"y","type":"quantitative","scale":{"domain":[0,5],"nice":false,"zero":false},"axis":null},"text":{"field":"t"}}},
{"data":{"values":[{"t":"CW","x":-0.59,"y":1.82},{"t":"(nm)","x":-0.911,"y":3.14}]},"mark":{"type":"text","align":"center","baseline":"alphabetic","angle":270},
"encoding":{"x":{"field":"x","type":"quantitative","scale":{"domain":[1,21],"nice":false,"zero":false},"axis":null},"y":{"field":"y","type":"quantitative","scale":{"domain":[0,5],"nice":false,"zero":false},"axis":null},"text":{"field":"t"},"size":{"field":"t","type":"nominal","scale":{"domain":["CW","(nm)"],"range":[23,38]},"legend":null}}},
{"data":{"values":[{"t":"Number of peptide bonds,","x":16.35,"y":-0.975}]},"mark":{"type":"text","align":"right","baseline":"alphabetic","fontSize":39},
"encoding":{"x":{"field":"x","type":"quantitative","scale":{"domain":[1,21],"nice":false,"zero":false},"axis":null},"y":{"field":"y","type":"quantitative","scale":{"domain":[0,5],"nice":false,"zero":false},"axis":null},"text":{"field":"t"}}},
{"data":{"values":[{"t":"n","x":16.42,"y":-0.975}]},"mark":{"type":"text","align":"left","baseline":"alphabetic","fontSize":39,"fontStyle":"italic"},
"encoding":{"x":{"field":"x","type":"quantitative","scale":{"domain":[1,21],"nice":false,"zero":false},"axis":null},"y":{"field":"y","type":"quantitative","scale":{"domain":[0,5],"nice":false,"zero":false},"axis":null},"text":{"field":"t"}}},
{"data":{"values":[{"t":"b","x":16.94,"y":-1.24}]},"mark":{"type":"text","align":"left","baseline":"alphabetic","fontSize":27},
"encoding":{"x":{"field":"x","type":"quantitative","scale":{"domain":[1,21],"nice":false,"zero":false},"axis":null},"y":{"field":"y","type":"quantitative","scale":{"domain":[0,5],"nice":false,"zero":false},"axis":null},"text":{"field":"t"}}}
]}
]
}
